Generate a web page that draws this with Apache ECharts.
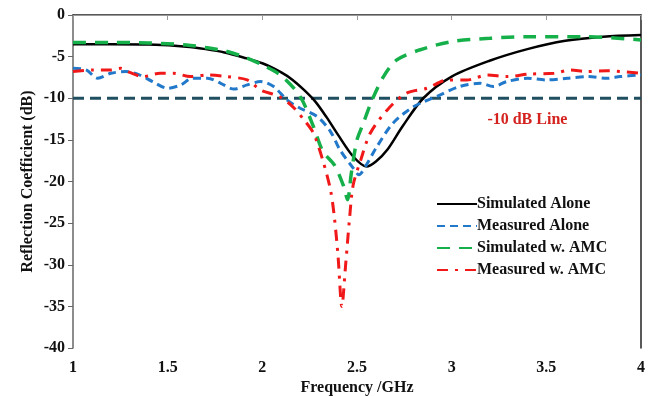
<!DOCTYPE html>
<html>
<head>
<meta charset="utf-8">
<script src="https://cdn.jsdelivr.net/npm/echarts@6/dist/echarts.min.js"></script>
<style>
  html, body { margin: 0; padding: 0; background: #fff; }
  #chart { width: 653px; height: 396px; }
</style>
</head>
<body>
<div id="chart"></div>
<script>
// frequency (GHz) / reflection coefficient (dB)
const simAloneF = [1.0, 1.2, 1.4, 1.6, 1.7, 1.8, 1.9, 2.0, 2.1, 2.16, 2.22, 2.28, 2.34, 2.4, 2.48, 2.55, 2.6, 2.66, 2.74, 2.85, 3.0, 3.2, 3.4, 3.6, 3.8, 4.0]
const simAloneDb = [-3.5, -3.5, -3.55, -3.8, -4.1, -4.5, -5.1, -5.8, -6.9, -7.8, -9.0, -10.4, -12.3, -14.4, -17, -18.2, -17.6, -16.2, -13.4, -10, -7.4, -5.5, -4.1, -3.1, -2.6, -2.4]

const measAloneF = [1.0, 1.07, 1.13, 1.2, 1.28, 1.35, 1.42, 1.5, 1.57, 1.63, 1.71, 1.78, 1.85, 1.92, 1.99, 2.06, 2.13, 2.2, 2.29, 2.36, 2.41, 2.48, 2.51, 2.55, 2.6, 2.69, 2.8, 2.94, 3.04, 3.15, 3.22, 3.29, 3.4, 3.5, 3.61, 3.72, 3.82, 3.89, 4.0]
const measAloneDb = [-6.4, -6.6, -7.6, -7.0, -6.8, -7.2, -8.0, -8.8, -8.4, -7.6, -7.6, -8.2, -8.9, -8.4, -8.0, -8.6, -10.2, -11.2, -12.2, -14, -16.2, -18.4, -19.2, -18, -16, -13, -11, -9.6, -8.6, -8.2, -8.6, -8.0, -7.6, -7.8, -7.6, -7.4, -7.6, -7.4, -7.2]

const simAmcF = [1.0, 1.2, 1.4, 1.6, 1.7, 1.8, 1.9, 2.0, 2.1, 2.2, 2.27, 2.32, 2.38, 2.43, 2.45, 2.47, 2.5, 2.53, 2.58, 2.64, 2.71, 2.83, 3.0, 3.2, 3.4, 3.7, 4.0]
const simAmcDb = [-3.3, -3.3, -3.35, -3.6, -3.9, -4.3, -5.0, -6.0, -7.3, -9.8, -13.4, -16.4, -18, -20.6, -22.2, -19, -15, -13.2, -10.2, -7.4, -5.4, -4.2, -3.2, -2.8, -2.6, -2.6, -3.0]

const measAmcF = [1.0, 1.1, 1.2, 1.25, 1.3, 1.37, 1.46, 1.53, 1.62, 1.71, 1.81, 1.92, 1.99, 2.09, 2.16, 2.22, 2.27, 2.32, 2.36, 2.38, 2.4, 2.42, 2.44, 2.46, 2.48, 2.52, 2.57, 2.66, 2.76, 2.87, 2.98, 3.08, 3.19, 3.29, 3.41, 3.54, 3.63, 3.71, 3.82, 4.0]
const measAmcDb = [-6.8, -6.6, -6.6, -6.4, -6.9, -7.4, -7.0, -7.0, -7.4, -7.2, -7.4, -7.8, -9.0, -9.8, -11, -12.6, -14.2, -17.5, -21, -24.2, -29, -35, -30, -24.6, -20.4, -17.4, -14.2, -11.4, -9.4, -8.8, -7.8, -7.8, -7.2, -7.4, -7.1, -7.0, -6.6, -6.8, -6.7, -7.0]

const refF = [1, 4]
const refDb = [-10, -10]

const pairs = (xs, ys) => xs.map((x, i) => [x, ys[i]])

const font = 'Liberation Serif'
const txt = { fontFamily: font, fontWeight: 'bold', fontSize: 16, color: '#111' }
const chart = echarts.init(document.getElementById('chart'))

chart.setOption({
  animation: false,
  textStyle: { fontFamily: font },
  grid: { left: 73, right: 12, top: 15, bottom: 48, outerBoundsMode: 'none', containLabel: false },
  legend: {
    orient: 'vertical',
    left: 431,
    top: 191,
    itemWidth: 40,
    itemHeight: 16,
    itemGap: 6,
    itemStyle: { opacity: 0 },
    textStyle: { ...txt, padding: [0, 0, 0, -5] },
    data: ['Simulated Alone', 'Measured Alone', 'Simulated w. AMC', 'Measured w. AMC']
  },
  xAxis: [{
    type: 'value', min: 1, max: 4, interval: 0.5,
    name: 'Frequency /GHz', nameLocation: 'middle', nameGap: 32, nameMoveOverlap: false,
    nameTextStyle: txt,
    axisLine: { lineStyle: { color: '#222', width: 1.5 } },
    axisTick: { show: false },
    axisLabel: { ...txt, margin: 12 },
    splitLine: { show: false }
  }, {
    type: 'value', min: 1, max: 4, interval: 0.5, position: 'top',
    axisLine: { lineStyle: { color: '#999', width: 1 } },
    axisTick: { inside: true, length: 5, lineStyle: { color: '#999' } },
    axisLabel: { show: false },
    splitLine: { show: false }
  }],
  yAxis: [{
    type: 'value', min: -40, max: 0, interval: 5,
    name: 'Reflection Coefficient (dB)', nameLocation: 'middle', nameGap: 37, nameMoveOverlap: false,
    nameTextStyle: txt,
    axisLine: { show: true, lineStyle: { color: '#666', width: 1.5 } },
    axisTick: { show: true, length: 5, lineStyle: { color: '#666' } },
    axisLabel: { ...txt, margin: 8 },
    splitLine: { show: false }
  }, {
    type: 'value', min: -40, max: 0, interval: 5, position: 'right',
    axisLine: { show: true, lineStyle: { color: '#222', width: 1.5 } },
    axisTick: { show: false },
    axisLabel: { show: false },
    splitLine: { show: false }
  }],
  series: [
    {
      name: '-10 dB', type: 'line', symbol: 'none', silent: true,
      data: pairs(refF, refDb),
      lineStyle: { color: '#1f4f60', width: 3, type: [11, 6] },
      markPoint: {
        symbol: 'circle', symbolSize: 0,
        label: { show: true, position: 'inside', formatter: '-10 dB Line', ...txt, color: '#d4221e' },
        data: [{ coord: [3.4, -12.6] }]
      }
    },
    {
      name: 'Simulated Alone', type: 'line', symbol: 'none', smooth: 0.3,
      data: pairs(simAloneF, simAloneDb),
      lineStyle: { color: '#000', width: 2.5 }, itemStyle: { color: '#000' }
    },
    {
      name: 'Measured Alone', type: 'line', symbol: 'none', smooth: 0.3,
      data: pairs(measAloneF, measAloneDb),
      lineStyle: { color: '#2279c9', width: 3, type: [8, 5] }, itemStyle: { color: '#2279c9' }
    },
    {
      name: 'Simulated w. AMC', type: 'line', symbol: 'none', smooth: 0.3,
      data: pairs(simAmcF, simAmcDb),
      lineStyle: { color: '#16b04a', width: 3.5, type: [13, 9] }, itemStyle: { color: '#16b04a' }
    },
    {
      name: 'Measured w. AMC', type: 'line', symbol: 'none', smooth: 0.3,
      data: pairs(measAmcF, measAmcDb),
      lineStyle: { color: '#f01818', width: 3, type: [11, 7, 3, 7] }, itemStyle: { color: '#f01818' }
    }
  ]
})
</script>
</body>
</html>
